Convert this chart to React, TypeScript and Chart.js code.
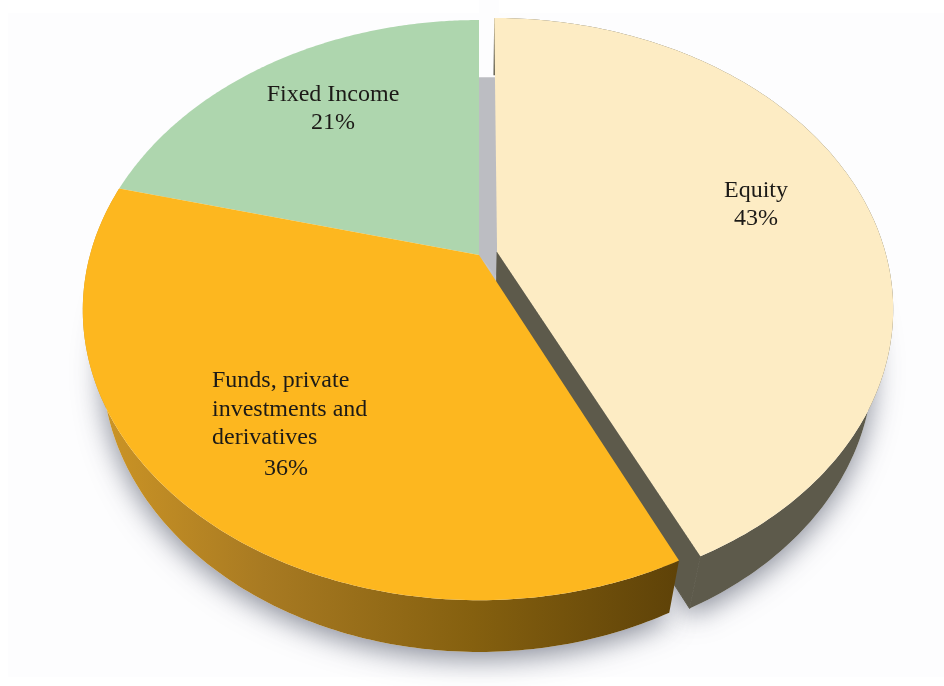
import React, { useEffect, useRef } from "react";
import { Chart, registerables } from "chart.js";

Chart.register(...registerables);

// Portfolio composition, clockwise from twelve o'clock.
const categories = ["Equity", "Funds, private investments and derivatives", "Fixed Income"];
const shares = [43, 36, 21];
const labelLines = [["Equity"], ["Funds, private", "investments and", "derivatives"], ["Fixed Income"]];
const topColors = ["#fdecc4", "#fdb71f", "#aed6ae"];
const wallColors = ["#5d5a4b", "#8a6018", "#bcbdc2"];
const explodeOffsets = [16, 0, 0];

// Perspective disc: unit-disc points are foreshortened towards the back.
const TOP_PLANE = { cx: 479, cy: 255, rx: 389, ry: 279.6, k: 0.19 };
const LOWER_PLANE = { cx: 479, cy: 310, rx: 370, ry: 277, k: 0.19 };
const project = (plane: typeof TOP_PLANE, u: number, v: number) => {
  const w = 1 - plane.k * v;
  return { x: plane.cx + (plane.rx * u) / w, y: plane.cy + (plane.ry * v) / w };
};

const RIM_STEPS = 160;
const rimPoints = (plane: typeof TOP_PLANE, arc: any) => {
  const half = (arc.startAngle + arc.endAngle) / 2;
  const d = (arc.options.offset || 0) / arc.outerRadius;
  const ou = Math.cos(half) * d;
  const ov = Math.sin(half) * d;
  const pts = [];
  for (let i = 0; i <= RIM_STEPS; i++) {
    const a = arc.startAngle + ((arc.endAngle - arc.startAngle) * i) / RIM_STEPS;
    pts.push(project(plane, ou + Math.cos(a), ov + Math.sin(a)));
  }
  return { apex: project(plane, ou, ov), rim: pts };
};

const tracePolygon = (ctx: CanvasRenderingContext2D, pts: { x: number; y: number }[]) => {
  ctx.beginPath();
  pts.forEach((p, i) => (i ? ctx.lineTo(p.x, p.y) : ctx.moveTo(p.x, p.y)));
  ctx.closePath();
};

const perspectivePie = {
  id: "perspectivePie",
  beforeDraw(chart: any) {
    const { ctx, width, height } = chart;
    ctx.save();
    ctx.fillStyle = "#ffffff";
    ctx.fillRect(0, 0, width, height);
    ctx.fillStyle = "#fdfdfe";
    ctx.fillRect(8, 13, width - 8, height - 22);
    ctx.restore();
  },
  beforeDatasetDraw(chart: any) {
    const { ctx } = chart;
    const arcs = chart.getDatasetMeta(0).data;
    const top = arcs.map((a: any) => rimPoints(TOP_PLANE, a));
    const low = arcs.map((a: any) => rimPoints(LOWER_PLANE, a));
    const [equity, funds, fixed] = [0, 1, 2];

    ctx.save();

    // Soft cast shadow under each slice's footprint.
    ctx.save();
    ctx.shadowColor = "rgba(115,120,135,0.85)";
    ctx.shadowBlur = 28;
    ctx.shadowOffsetX = 0;
    ctx.shadowOffsetY = 7;
    ctx.fillStyle = "#fdfdfe";
    [equity, funds, fixed].forEach((i) => {
      tracePolygon(ctx, [low[i].apex, ...low[i].rim]);
      ctx.fill();
    });
    ctx.restore();

    // Clear the notch above the inner wall, then paint the wall seen through the gap.
    const gapTop = low[fixed].rim[RIM_STEPS].y;
    ctx.fillStyle = "#fdfdfe";
    ctx.fillRect(top[fixed].apex.x, 0, top[equity].apex.x - top[fixed].apex.x + 2, gapTop + 1);
    ctx.fillStyle = wallColors[fixed];
    tracePolygon(ctx, [
      { x: top[fixed].apex.x, y: gapTop },
      { x: top[equity].apex.x, y: gapTop },
      { x: top[equity].apex.x, y: low[equity].apex.y - 30 },
      top[fixed].apex,
    ]);
    ctx.fill();

    // Equity's rim and cut face; the cut face is stroked too so no seam shows where they meet.
    ctx.fillStyle = wallColors[equity];
    ctx.strokeStyle = wallColors[equity];
    ctx.lineWidth = 1;
    tracePolygon(ctx, [...top[equity].rim, ...[...low[equity].rim].reverse()]);
    ctx.fill();
    tracePolygon(ctx, [top[equity].apex, top[equity].rim[RIM_STEPS], low[equity].rim[RIM_STEPS], low[equity].apex]);
    ctx.fill();
    ctx.stroke();

    // Funds' rim catches the light on its left side.
    const g = ctx.createLinearGradient(85, 0, 680, 0);
    g.addColorStop(0, "#cf9726");
    g.addColorStop(0.3, "#a87a22");
    g.addColorStop(0.65, "#85600f");
    g.addColorStop(1, "#5e4208");
    ctx.fillStyle = g;
    tracePolygon(ctx, [...top[funds].rim, ...[...low[funds].rim].reverse()]);
    ctx.fill();

    // Flat top faces.
    [equity, fixed, funds].forEach((i) => {
      ctx.fillStyle = topColors[i];
      tracePolygon(ctx, [top[i].apex, ...top[i].rim]);
      ctx.fill();
    });

    ctx.restore();
    return false;
  },
  afterDatasetsDraw(chart: any) {
    const { ctx } = chart;
    ctx.save();
    ctx.fillStyle = "#1c1a17";
    ctx.font = '24px "Liberation Serif"';
    ctx.textBaseline = "alphabetic";
    // Equity
    ctx.textAlign = "center";
    ctx.fillText(labelLines[0][0], 756, 197);
    ctx.fillText(`${shares[0]}%`, 756, 225);
    // Fixed Income
    ctx.fillText(labelLines[2][0], 333, 101);
    ctx.fillText(`${shares[2]}%`, 333, 129);
    // Funds, hand-broken over three lines with the value set below
    ctx.textAlign = "left";
    labelLines[1].forEach((line, i) => ctx.fillText(line, 212, 387 + i * 28.5));
    ctx.textAlign = "center";
    ctx.fillText(`${shares[1]}%`, 286, 475);
    ctx.restore();
  },
};

export default function App() {
  const ref = useRef<HTMLCanvasElement | null>(null);
  useEffect(() => {
    document.body.style.margin = "0";
    const chart = new Chart(ref.current as HTMLCanvasElement, {
      type: "pie",
      data: {
        labels: categories,
        datasets: [{ data: shares, backgroundColor: topColors, offset: explodeOffsets, borderWidth: 0 }],
      },
      options: {
        responsive: false,
        animation: false,
        rotation: 0,
        plugins: { legend: { display: false }, tooltip: { enabled: false } },
      },
      plugins: [perspectivePie],
    } as any);
    return () => chart.destroy();
  }, []);
  return <canvas ref={ref} width={944} height={686} style={{ display: "block" }} />;
}
